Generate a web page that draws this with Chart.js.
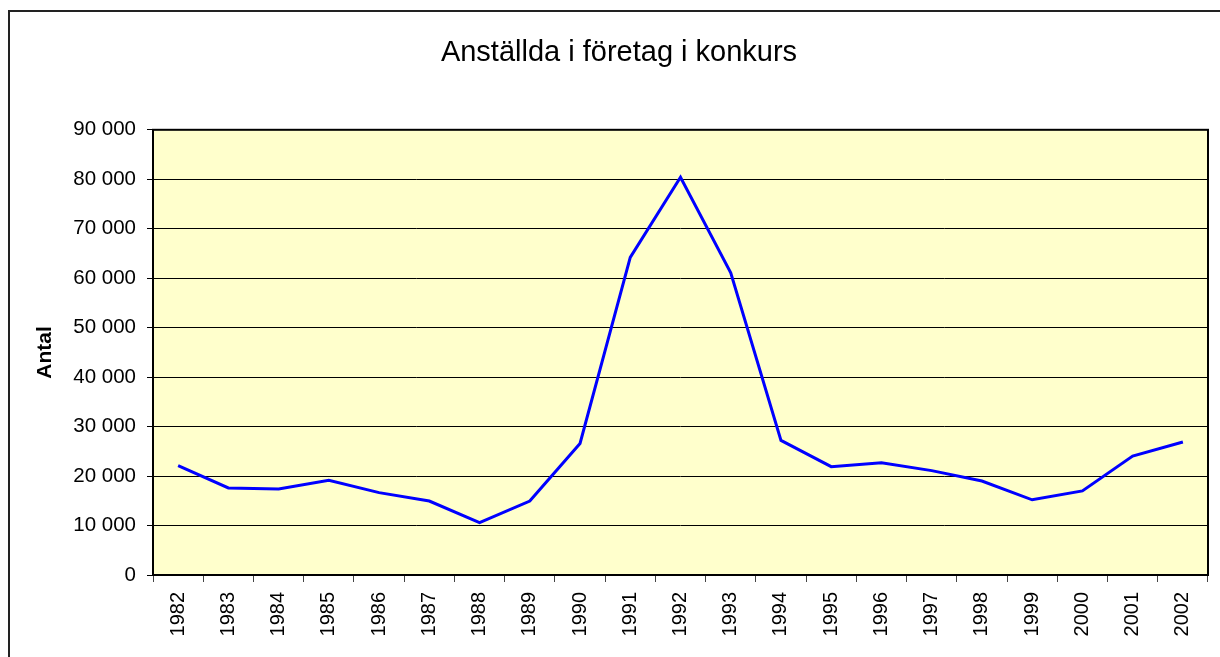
<!DOCTYPE html>
<html>
<head>
<meta charset="utf-8">
<script src="https://cdn.jsdelivr.net/npm/chart.js@4"></script>
<style>
  html, body { margin: 0; padding: 0; background: #fff; }
  #wrap { width: 1220px; height: 657px; }
</style>
</head>
<body>
<div id="wrap"><canvas id="konkursChart" width="1220" height="657"></canvas></div>
<script>
const years = ['1982', '1983', '1984', '1985', '1986', '1987', '1988', '1989', '1990', '1991', '1992',
  '1993', '1994', '1995', '1996', '1997', '1998', '1999', '2000', '2001', '2002'];
const employees = [22100, 17600, 17400, 19150, 16650, 14950, 10600, 14950, 26600, 64200, 80400,
  61100, 27200, 21900, 22700, 21100, 19000, 15200, 17000, 24050, 26900];
const yTicks = [0, 10000, 20000, 30000, 40000, 50000, 60000, 70000, 80000, 90000];

// plot background, frame and the outer chart border
const framePlugin = {
  id: 'frame',
  beforeDraw(chart) {
    const { ctx, chartArea: a } = chart;
    ctx.save();
    ctx.fillStyle = '#ffffcc';
    ctx.fillRect(a.left, a.top, a.right - a.left, a.bottom - a.top);
    ctx.strokeStyle = '#222';
    ctx.lineWidth = 2;
    ctx.beginPath();
    ctx.moveTo(9, chart.height);
    ctx.lineTo(9, 11);
    ctx.lineTo(chart.width, 11);
    ctx.stroke();
    ctx.restore();
  },
  afterDraw(chart) {
    const { ctx, chartArea: a } = chart;
    ctx.save();
    ctx.strokeStyle = '#000';
    ctx.lineWidth = 2;
    ctx.strokeRect(a.left, a.top, a.right - a.left, a.bottom - a.top);
    ctx.restore();
  }
};

const fmt = v => String(v).replace(/\B(?=(\d{3})+(?!\d))/g, ' ');
const FONT = 'Liberation Sans, Arial, sans-serif';

new Chart(document.getElementById('konkursChart').getContext('2d'), {
  type: 'line',
  data: {
    labels: years,
    datasets: [{
      label: 'Anställda',
      data: employees,
      borderColor: '#0000ff',
      borderWidth: 3,
      pointRadius: 0,
      tension: 0,
      fill: false
    }]
  },
  options: {
    responsive: false,
    animation: false,
    layout: { padding: { left: 30, right: 12, top: 0, bottom: 0 } },
    plugins: {
      legend: { display: false },
      tooltip: { enabled: false },
      title: {
        display: true,
        text: 'Anställda i företag i konkurs',
        color: '#000',
        font: { family: FONT, size: 29, weight: 'normal', lineHeight: 1.2 },
        padding: { top: 36, bottom: 59 }
      }
    },
    scales: {
      x: {
        offset: true,
        grid: { offset: true, drawOnChartArea: false, drawTicks: true, tickLength: 7, color: '#444', lineWidth: 1 },
        border: { display: false },
        ticks: {
          autoSkip: false,
          minRotation: 90,
          maxRotation: 90,
          padding: 10,
          color: '#000',
          font: { family: FONT, size: 20 }
        },
        afterFit(scale) { scale.height = 82; }
      },
      y: {
        min: 0,
        max: 90000,
        afterBuildTicks(scale) { scale.ticks = yTicks.map(v => ({ value: v })); },
        grid: { color: '#000', lineWidth: 1, drawTicks: true, tickLength: 6 },
        border: { display: false },
        ticks: {
          padding: 11,
          color: '#000',
          font: { family: FONT, size: 20.5 },
          callback: v => fmt(v)
        },
        title: {
          display: true,
          text: 'Antal',
          color: '#000',
          font: { family: FONT, size: 21, weight: 'bold', lineHeight: 1.2 },
          padding: { top: 3, bottom: 0 }
        },
        afterFit(scale) { scale.width = 123; }
      }
    }
  },
  plugins: [framePlugin]
});
</script>
</body>
</html>
